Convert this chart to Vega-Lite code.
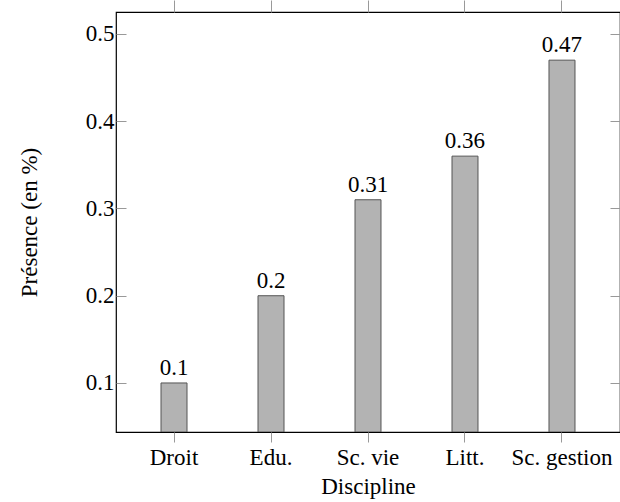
{
  "$schema": "https://vega.github.io/schema/vega-lite/v6.json",
  "autosize": "none",
  "width": 504,
  "height": 420,
  "padding": {"left": 116, "top": 12, "right": 0, "bottom": 70},
  "background": "white",
  "config": {
    "font": "Liberation Serif",
    "view": {"stroke": "black", "strokeWidth": 1.2},
    "axis": {"labelFont": "Liberation Serif", "titleFont": "Liberation Serif", "labelFontSize": 23, "titleFontSize": 23, "labelFontWeight": "normal", "titleFontWeight": "normal", "labelColor": "black", "titleColor": "black", "tickColor": "#999999", "tickWidth": 1, "domain": false, "grid": false}
  },
  "data": {"values": [
    {"Discipline": "Droit", "value": 0.1},
    {"Discipline": "Edu.", "value": 0.2},
    {"Discipline": "Sc. vie", "value": 0.31},
    {"Discipline": "Litt.", "value": 0.36},
    {"Discipline": "Sc. gestion", "value": 0.47}
  ]},
  "layer": [
    {"mark": {"type": "bar", "fill": "#b3b3b3", "stroke": "#555555", "strokeWidth": 1, "clip": true},
     "encoding": {
       "x": {"field": "Discipline", "type": "nominal", "sort": null,
         "scale": {"type": "band", "paddingInner": 0.732, "paddingOuter": 0.464},
         "axis": {"orient": "bottom", "labelAngle": 0, "tickSize": 10, "labelPadding": 4, "title": "Discipline", "titlePadding": 6, "bandPosition": 0.5}},
       "y": {"field": "value", "type": "quantitative",
         "scale": {"domain": [0.0438, 0.5252], "zero": false, "nice": false},
         "axis": {"orient": "left", "values": [0.1, 0.2, 0.3, 0.4, 0.5], "format": ".1f", "tickSize": -10, "labelPadding": 12, "title": "Présence (en %)", "titlePadding": 44}},
       "y2": {"datum": 0.0438}}},
    {"mark": {"type": "text", "fontSize": 23, "baseline": "alphabetic", "dy": -8, "color": "black", "font": "Liberation Serif"},
     "encoding": {
       "x": {"field": "Discipline", "type": "nominal", "sort": null, "axis": null},
       "y": {"field": "value", "type": "quantitative", "axis": null},
       "text": {"field": "value", "type": "quantitative"}}},
    {"mark": {"type": "rule", "opacity": 0},
     "encoding": {
       "x": {"field": "Discipline", "type": "nominal", "sort": null,
         "axis": {"orient": "top", "labels": false, "tickSize": 12, "title": null, "bandPosition": 0.5}},
       "y": {"field": "value", "type": "quantitative",
         "axis": {"orient": "right", "values": [0.1, 0.2, 0.3, 0.4, 0.5], "labels": false, "tickSize": -10, "title": null}}
     }}
  ],
  "resolve": {"axis": {"x": "independent", "y": "independent"}}
}
